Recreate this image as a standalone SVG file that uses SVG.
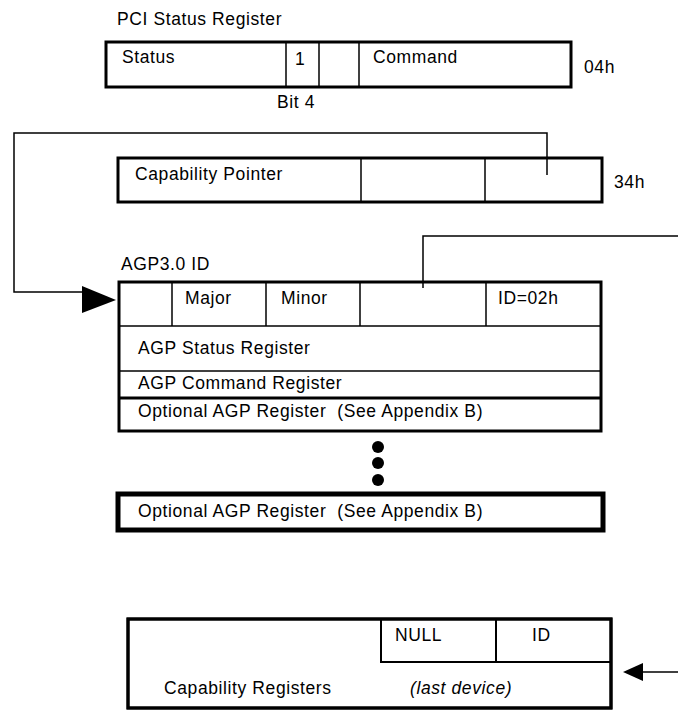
<svg xmlns="http://www.w3.org/2000/svg" width="678" height="712" viewBox="0 0 678 712">
<style>
text{font-family:"Liberation Sans",Arial,sans-serif;font-size:17.5px;letter-spacing:0.6px;fill:#000;white-space:pre}
.box{fill:#fff;stroke:#000;stroke-width:3}
.thick{fill:#fff;stroke:#000;stroke-width:5}
.div{stroke:#000;stroke-width:1.5;fill:none}
.conn{stroke:#000;stroke-width:1.5;fill:none}
.it{font-style:italic}
</style>
<rect width="678" height="712" fill="#fff"/>
<g id="pci-status">
<text x="117" y="25">PCI Status Register</text>
<rect class="box" x="106" y="42" width="465" height="45"/>
<line class="div" x1="286" y1="42" x2="286" y2="87"/>
<line class="div" x1="319" y1="42" x2="319" y2="87"/>
<line class="div" x1="359" y1="42" x2="359" y2="87"/>
<text x="122" y="63">Status</text>
<text x="295" y="65">1</text>
<text x="373" y="63">Command</text>
<text x="277" y="108">Bit 4</text>
<text x="584" y="73">04h</text>
</g>
<g id="cap-pointer">
<rect class="box" x="118" y="158" width="484" height="44"/>
<line class="div" x1="361" y1="158" x2="361" y2="202"/>
<line class="div" x1="485" y1="158" x2="485" y2="202"/>
<text x="135" y="180">Capability Pointer</text>
<text x="614" y="188">34h</text>
</g>
<g id="agp">
<text x="121" y="270">AGP3.0 ID</text>
<rect class="box" x="119" y="282" width="482" height="149"/>
<line class="div" x1="172" y1="282" x2="172" y2="326"/>
<line class="div" x1="266" y1="282" x2="266" y2="326"/>
<line class="div" x1="360" y1="282" x2="360" y2="326"/>
<line class="div" x1="486" y1="282" x2="486" y2="326"/>
<line class="div" x1="119" y1="326" x2="601" y2="326"/>
<line class="div" x1="119" y1="371" x2="601" y2="371"/>
<line x1="119" y1="398" x2="601" y2="398" stroke="#000" stroke-width="3"/>
<text x="185" y="304">Major</text>
<text x="281" y="304">Minor</text>
<text x="498" y="304">ID=02h</text>
<text x="138" y="354">AGP Status Register</text>
<text x="138" y="389">AGP Command Register</text>
<text x="138" y="417" xml:space="preserve">Optional AGP Register  (See Appendix B)</text>
</g>
<g id="ellipsis">
<circle cx="378" cy="447" r="6"/>
<circle cx="378" cy="463" r="6"/>
<circle cx="378" cy="480" r="6"/>
</g>
<g id="optional-last">
<rect class="thick" x="118" y="494" width="485" height="36"/>
<text x="138" y="517" xml:space="preserve">Optional AGP Register  (See Appendix B)</text>
</g>
<g id="last-device">
<rect class="box" x="128" y="619" width="483" height="89"/>
<rect x="381" y="619" width="230" height="43" fill="none" stroke="#000" stroke-width="2"/>
<line x1="496" y1="619" x2="496" y2="662" stroke="#000" stroke-width="2"/>
<rect x="128" y="619" width="483" height="89" fill="none" stroke="#000" stroke-width="3"/>
<text x="395" y="641">NULL</text>
<text x="532" y="641">ID</text>
<text x="164" y="694">Capability Registers</text>
<text class="it" x="410" y="694">(last device)</text>
</g>
<g id="connectors">
<path class="conn" d="M547,175 V133 H14 V292 H84"/>
<polygon points="82,286 82,313 116,300" fill="#000"/>
<path class="conn" d="M423,288 V236 H678"/>
<line class="conn" x1="678" y1="672" x2="640" y2="672"/>
<polygon points="623,672 643,663 643,681" fill="#000"/>
</g>
</svg>
